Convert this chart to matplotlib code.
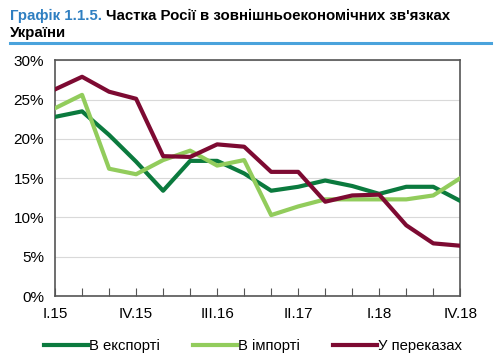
import matplotlib
matplotlib.use("Agg")
import matplotlib.pyplot as plt

plt.rcParams["font.family"] = ["Liberation Sans", "DejaVu Sans"]

quarters = ["I.15", "II.15", "III.15", "IV.15", "I.16", "II.16", "III.16", "IV.16",
            "I.17", "II.17", "III.17", "IV.17", "I.18", "II.18", "III.18", "IV.18"]
export_share = [22.8, 23.5, 20.5, 17.1, 13.4, 17.2, 17.2, 15.6,
                13.4, 13.9, 14.7, 14.0, 13.0, 13.9, 13.9, 12.1]
import_share = [23.9, 25.6, 16.2, 15.5, 17.3, 18.5, 16.6, 17.3,
                10.3, 11.4, 12.3, 12.3, 12.3, 12.3, 12.8, 15.0]
transfer_share = [26.3, 27.9, 26.0, 25.1, 17.8, 17.7, 19.3, 19.0,
                  15.8, 15.8, 12.0, 12.8, 12.9, 9.0, 6.7, 6.4]
tick_labels = ["I.15", "IV.15", "III.16", "II.17", "I.18", "IV.18"]

C_EXP = "#0b7a3e"
C_IMP = "#92cc5c"
C_TRF = "#7d0a32"

fig = plt.figure(figsize=(4.96, 3.61), dpi=100)

# title: blue label + black text on the same line
t1 = fig.text(0.02, 0.955, "Графік 1.1.5.", color="#2f7fc1", fontsize=10.8,
              fontweight="bold", va="center")
fig.canvas.draw()
bb = t1.get_window_extent().transformed(fig.transFigure.inverted())
fig.text(bb.x1 + 0.008, 0.955, "Частка Росії в зовнішньоекономічних зв'язках",
         color="black", fontsize=10.8, fontweight="bold", va="center")
fig.text(0.02, 0.908, "України", color="black", fontsize=10.8,
         fontweight="bold", va="center")
fig.add_artist(plt.Line2D([0.02, 0.99], [0.88, 0.88], color="#4aa3dc", lw=2.2))

ax = fig.add_axes([0.111, 0.18, 0.817, 0.653])
x = list(range(len(quarters)))
ax.plot(x, export_share, color=C_EXP, lw=3, label="В експорті", zorder=3)
ax.plot(x, import_share, color=C_IMP, lw=3, label="В імпорті", zorder=3)
ax.plot(x, transfer_share, color=C_TRF, lw=3, label="У переказах", zorder=3)

ax.set_xlim(0, len(quarters) - 1)
ax.set_ylim(0, 30)
ax.set_yticks(range(0, 31, 5))
ax.set_yticklabels([f"{v}%" for v in range(0, 31, 5)], fontsize=11)
ax.set_xticks(x)
ax.set_xticklabels([q if q in tick_labels else "" for q in quarters], fontsize=11)
ax.tick_params(axis="x", direction="in", length=6, color="#555555", pad=8)
ax.tick_params(axis="y", length=0, pad=8)
ax.grid(axis="y", color="#d9d9d9", lw=0.8)
for s in ax.spines.values():
    s.set_color("#555555")
    s.set_linewidth(1.2)

fig.legend(loc="lower center", bbox_to_anchor=(0.51, -0.015), ncol=3, frameon=False,
           fontsize=10.7, handlelength=2.95, handletextpad=0.1, columnspacing=2.2)

fig.savefig("out.png", dpi=100)
